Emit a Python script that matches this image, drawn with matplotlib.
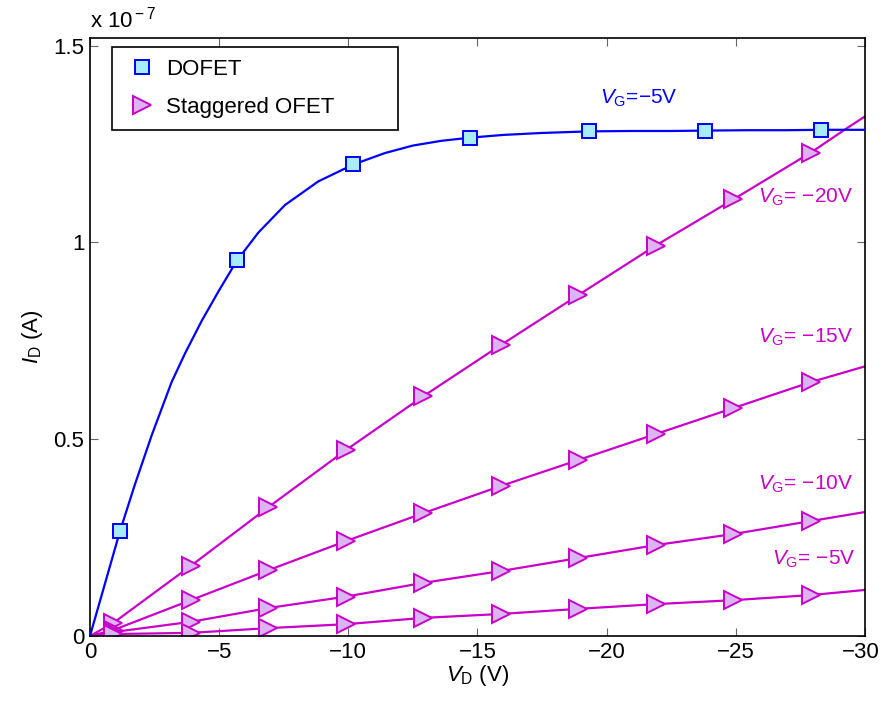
import numpy as np
import matplotlib
matplotlib.use('Agg')
import matplotlib.pyplot as plt
import matplotlib.transforms as mtrans
from matplotlib.lines import Line2D

plt.rcParams['font.family'] = ['Liberation Sans', 'DejaVu Sans']
plt.rcParams['mathtext.fontset'] = 'custom'
plt.rcParams['mathtext.rm'] = 'Liberation Sans'
plt.rcParams['mathtext.it'] = 'Liberation Sans:italic'

# DOFET, VG = -5 V  (I_D in units of 1e-7 A)
dofet_vd = [0, -1.16, -1.74, -2.39, -3.16, -3.68, -4.32, -4.97, -5.69, -6.52, -7.55, -8.84,
            -10.2, -11.42, -12.5, -13.6, -14.7, -16, -17.5, -19.3, -21, -22.5, -23.8,
            -25.5, -27, -28.3, -30]
dofet_id = [0, 0.266, 0.385, 0.51, 0.645, 0.718, 0.80, 0.875, 0.954, 1.025, 1.095, 1.155,
            1.198, 1.227, 1.246, 1.258, 1.266, 1.273, 1.278, 1.282, 1.283, 1.283, 1.284,
            1.285, 1.285, 1.286, 1.286]
dofet_marks = [-1.16, -5.69, -10.2, -14.7, -19.3, -23.8, -28.3]

# staggered OFET, one curve per gate voltage
stag_vd = [0, -0.9, -3.9, -6.9, -9.9, -12.9, -15.9, -18.9, -21.9, -24.9, -27.9, -30]
stag_vg20 = [0, 0.033, 0.178, 0.327, 0.472, 0.609, 0.739, 0.866, 0.992, 1.109, 1.228, 1.32]
stag_vg15 = [0, 0.015, 0.091, 0.167, 0.241, 0.312, 0.381, 0.447, 0.513, 0.579, 0.645, 0.685]
stag_vg10 = [0, 0.010, 0.036, 0.071, 0.100, 0.135, 0.165, 0.198, 0.231, 0.259, 0.292, 0.315]
stag_vg5 = [0, 0.005, 0.008, 0.020, 0.030, 0.046, 0.056, 0.069, 0.081, 0.091, 0.104, 0.117]

blue = '#0000ff'
blue_face = '#a8ecfc'
mag = '#c800c8'
mag_face = '#dcb4f4'

fig = plt.figure(figsize=(8.82, 7.02), dpi=100)
ax = fig.add_axes([0.102, 0.094, 0.8787, 0.8523])

# VG=-20 has a small upturn near the end
vd20 = stag_vd[:-1] + [-29.3, -30]
id20 = stag_vg20[:-1] + [1.29, 1.32]
ax.plot(vd20, id20, color=mag, lw=1.6, marker='>', ms=13, mfc=mag_face, mec=mag, mew=1.4,
        markevery=list(range(1, 11)))
for ys in [stag_vg15, stag_vg10, stag_vg5]:
    ax.plot(stag_vd, ys, color=mag, lw=1.6, marker='>', ms=13, mfc=mag_face, mec=mag, mew=1.4,
            markevery=list(range(1, 11)))

mk_idx = [i for i, v in enumerate(dofet_vd) if v in dofet_marks]
ax.plot(dofet_vd, dofet_id, color=blue, lw=1.6, marker='s', ms=9.5, mfc=blue_face, mec=blue,
        mew=1.4, markevery=mk_idx, zorder=3)

ax.set_xlim(0, -30)
ax.set_ylim(0, 1.52)
ax.set_xticks([0, -5, -10, -15, -20, -25, -30])
ax.set_xticklabels(['0', '\u22125', '\u221210', '\u221215', '\u221220', '\u221225', '\u221230'])
ax.set_yticks([0, 0.5, 1, 1.5])
ax.set_yticklabels(['0', '0.5', '1', '1.5'])
ax.tick_params(direction='in', top=True, right=True, length=6, width=0.8, color='0.4',
               labelsize=16, pad=4)
for s in ax.spines.values():
    s.set_linewidth(1.2)
# keep the last x tick label inside the figure
last = ax.get_xticklabels()[-1]
last.set_transform(last.get_transform() + mtrans.ScaledTranslation(-4 / 100, 0, fig.dpi_scale_trans))

ax.set_xlabel(r'$V_{\rm D}$ (V)', fontsize=16, labelpad=0)
ax.set_ylabel(r'$I_{\rm D}$ (A)', fontsize=16, labelpad=6)
ax.text(0.0, 1.008, r'x 10$^{\rm -7}$', transform=ax.transAxes, fontsize=16, ha='left', va='bottom')

ax.text(-19.74, 1.353, r'$V_{\rm G}$=' + '\u22125V', color=blue, fontsize=15)
ax.text(-25.86, 1.10, r'$V_{\rm G}$= ' + '\u221220V', color=mag, fontsize=15)
ax.text(-25.86, 0.744, r'$V_{\rm G}$= ' + '\u221215V', color=mag, fontsize=15)
ax.text(-25.86, 0.371, r'$V_{\rm G}$= ' + '\u221210V', color=mag, fontsize=15)
ax.text(-26.4, 0.18, r'$V_{\rm G}$= ' + '\u22125V', color=mag, fontsize=15)

handles = [Line2D([], [], ls='none', marker='s', ms=9.5, mfc=blue_face, mec=blue, mew=1.4),
           Line2D([], [], ls='none', marker='>', ms=13, mfc=mag_face, mec=mag, mew=1.4)]
leg = ax.legend(handles, ['DOFET', 'Staggered OFET'], loc='upper left',
                bbox_to_anchor=(0.028, 0.85, 0.369, 0.135), mode='expand', borderaxespad=0,
                fancybox=False, edgecolor='black', framealpha=1, fontsize=16,
                handlelength=1.6, handletextpad=0.3, borderpad=0.55, labelspacing=0.75)
leg.get_frame().set_linewidth(1.2)

fig.savefig('out.png', dpi=100)
